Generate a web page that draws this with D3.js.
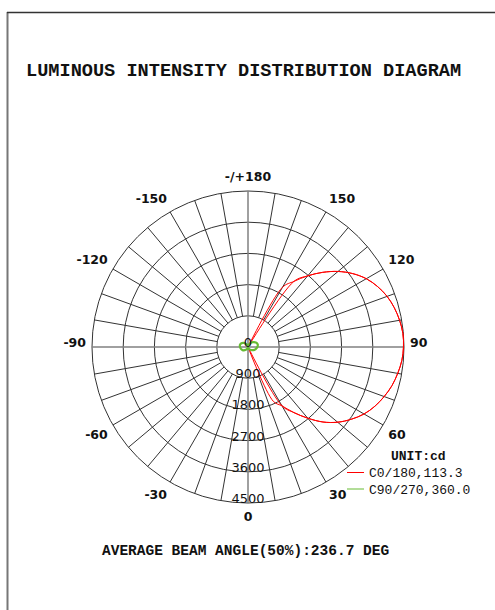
<!DOCTYPE html>
<html><head><meta charset="utf-8">
<script src="https://cdn.jsdelivr.net/npm/d3@7"></script>
<style>body{margin:0;background:#fff}svg{display:block}</style>
</head><body>
<svg id="c" width="495" height="610"></svg>
<script>
// ---- data ----
const ringValues = [900, 1800, 2700, 3600, 4500];
const ringLabels = ["900", "1800", "2700", "3600", "4500"];
const angleTicks = [0, 30, 60, 90, 120, 150, 180, -150, -120, -90, -60, -30];
const angleLabels = ["0", "30", "60", "90", "120", "150", "-/+180", "-150", "-120", "-90", "-60", "-30"];

// C0/180 plane (gamma 0..180, step 5)
const gamma5 = [0,5,10,15,20,25,30,35,40,45,50,55,60,65,70,75,80,85,90,95,100,105,110,115,120,125,130,135,140,145,150,155,160,165,170,175,180];
const c0Values   = [0,0,0,0,0,1730,1960,2310,2680,3060,3375,3635,3865,4040,4180,4300,4385,4455,4485,4485,4440,4370,4270,4125,3940,3690,3390,3045,2680,2310,1990,0,0,0,0,0,0];
const c180Values = [0,0,0,0,0,0,1960,2310,2680,3060,3375,3635,3865,4040,4180,4300,4385,4455,4485,4485,4440,4370,4270,4125,3940,3690,3390,3045,2680,2310,0,0,0,0,0,0,0];

// C90/270 plane (gamma 0..180, step 15)
const gamma15 = [0,15,30,45,60,75,90,105,120,135,150,165,180];
const c90Values  = [0,30,70,120,180,230,270,290,260,200,120,50,0];
const c270Values = [0,30,80,130,180,210,230,240,220,170,100,40,0];

const titleText = "LUMINOUS INTENSITY DISTRIBUTION DIAGRAM";
const beamText = "AVERAGE BEAM ANGLE(50%):236.7 DEG";
const unitText = "UNIT:cd";
const legendNames = ["C0/180,113.3", "C90/270,360.0"];

// ---- drawing ----
const svg = d3.select("#c");
const cx = 248, cy = 347;
const rMax = 4500;
const r = d3.scaleLinear().domain([0, rMax]).range([0, 156]);
const rad = a => a * Math.PI / 180;
const mono = "Courier New, Liberation Mono, monospace";
const sans = "DejaVu Sans, Verdana, sans-serif";

// frame
svg.append("line").attr("x1", 7.5).attr("y1", 12).attr("x2", 7.5).attr("y2", 610)
  .attr("stroke", "#777").attr("stroke-width", 2);
svg.append("line").attr("x1", 7).attr("y1", 12.5).attr("x2", 495).attr("y2", 12.5)
  .attr("stroke", "#333").attr("stroke-width", 1.5);

svg.append("text").attr("x", 26).attr("y", 76)
  .attr("font-family", mono).attr("font-weight", "bold")
  .attr("font-size", 18.6).attr("fill", "#111").text(titleText);

svg.append("text").attr("x", 102).attr("y", 555)
  .attr("font-family", mono).attr("font-weight", "bold")
  .attr("font-size", 14.5).attr("fill", "#111").text(beamText);

const g = svg.append("g").attr("transform", `translate(${cx},${cy})`);

// rings
g.selectAll("circle.ring").data(ringValues).join("circle")
  .attr("class", "ring").attr("r", d => r(d))
  .attr("fill", "none").attr("stroke", "#333").attr("stroke-width", 1);

// spokes every 10 degrees
const spokes = d3.range(0, 360, 10).filter(a => a % 90 !== 0);
g.selectAll("line.spoke").data(spokes).join("line")
  .attr("class", "spoke")
  .attr("x1", a => r(ringValues[0]) * Math.sin(rad(a)))
  .attr("y1", a => r(ringValues[0]) * Math.cos(rad(a)))
  .attr("x2", a => r(rMax) * Math.sin(rad(a)))
  .attr("y2", a => r(rMax) * Math.cos(rad(a)))
  .attr("stroke", "#333").attr("stroke-width", 1);

// main axes
g.append("line").attr("x1", -r(rMax)).attr("x2", r(rMax)).attr("y1", 0).attr("y2", 0)
  .attr("stroke", "#808080").attr("stroke-width", 1.5);
g.append("line").attr("y1", -r(rMax)).attr("y2", r(rMax)).attr("x1", 0).attr("x2", 0)
  .attr("stroke", "#808080").attr("stroke-width", 1.5);

// angle labels
angleTicks.forEach((a, i) => {
  const sx = Math.sin(rad(a)), sy = Math.cos(rad(a));
  let anchor = "middle";
  if (sx > 0.01) anchor = "start"; else if (sx < -0.01) anchor = "end";
  const x = Math.abs(sx) > 0.01 ? 162 * sx : 0;
  const y = sy > 0.01 ? 165 * sy + 9 : 166 * sy;
  g.append("text").attr("x", x).attr("y", y).attr("text-anchor", anchor)
    .attr("font-family", sans).attr("font-weight", "bold")
    .attr("font-size", 12.5).attr("fill", "#111").text(angleLabels[i]);
});

// curves
const radial = d3.lineRadial()
  .angle(d => Math.PI - rad(d.a))
  .radius(d => r(d.v))
  .curve(d3.curveCatmullRom.alpha(0.5));

const c0pts = gamma5.map((a, i) => ({a: a, v: c0Values[i]}));
const c180pts = gamma5.map((a, i) => ({a: a, v: c180Values[i]}));
g.append("path").attr("d", radial(c0pts)).attr("fill", "none").attr("stroke", "#ff0000").attr("stroke-width", 1);
g.append("path").attr("d", radial(c180pts)).attr("fill", "none").attr("stroke", "#ff0000").attr("stroke-width", 1);

const c90pts = gamma15.map((a, i) => ({a: a, v: c90Values[i]}));
const c270pts = gamma15.slice().reverse().map(a => ({a: -a, v: c270Values[gamma15.indexOf(a)]}));
g.append("path").attr("d", radial(c90pts.concat(c270pts)))
  .attr("fill", "none").attr("stroke", "#66bb33").attr("stroke-width", 2.2);

// ring labels
g.append("text").attr("x", 0).attr("y", 0).attr("text-anchor", "middle")
  .attr("font-family", sans).attr("font-size", 13).attr("fill", "#111").text("0");
g.selectAll("text.rl").data(ringValues).join("text")
  .attr("class", "rl").attr("x", 0).attr("y", d => r(d)).attr("text-anchor", "middle")
  .attr("font-family", sans).attr("font-size", 13).attr("fill", "#111")
  .text((d, i) => ringLabels[i]);

// legend
svg.append("text").attr("x", 391).attr("y", 460)
  .attr("font-family", mono).attr("font-weight", "bold")
  .attr("font-size", 13).attr("fill", "#111").text(unitText);
const legendColors = ["#ff0000", "#66bb33"];
const legendY = [472.5, 489];
legendNames.forEach((n, i) => {
  svg.append("line").attr("x1", 347).attr("x2", 364).attr("y1", legendY[i]).attr("y2", legendY[i])
    .attr("stroke", legendColors[i]).attr("stroke-width", 1);
  svg.append("text").attr("x", 369).attr("y", legendY[i] + 4.5)
    .attr("font-family", mono)
    .attr("font-size", 13).attr("fill", "#111").text(n);
});
</script>
</body></html>
